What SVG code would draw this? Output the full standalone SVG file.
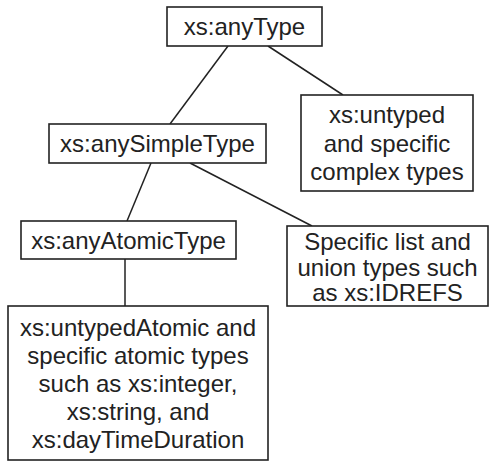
<svg xmlns="http://www.w3.org/2000/svg" width="495" height="469" viewBox="0 0 495 469">
<style>
.box{fill:#fff;stroke:#222;stroke-width:1.6}
.t{font-family:"Liberation Sans",Arial,sans-serif;font-size:24px;fill:#222;text-anchor:middle}
.c{stroke:#222;stroke-width:1.5;fill:none}
</style>
<rect width="495" height="469" fill="#fff"/>
<g id="connectors">
<line class="c" x1="228" y1="46" x2="170" y2="124"/>
<line class="c" x1="268" y1="46" x2="343" y2="95"/>
<line class="c" x1="151" y1="163" x2="127" y2="221"/>
<line class="c" x1="190" y1="163" x2="312" y2="226"/>
<line class="c" x1="125" y1="259" x2="125" y2="306"/>
</g>
<g id="anyType">
<rect class="box" x="167" y="7" width="155" height="39"/>
<text class="t" x="244.5" y="35">xs:anyType</text>
</g>
<g id="complex">
<rect class="box" x="301" y="95" width="172" height="96"/>
<text class="t" x="387" y="123">xs:untyped</text>
<text class="t" x="387" y="152">and specific</text>
<text class="t" x="387" y="180">complex types</text>
</g>
<g id="anySimpleType">
<rect class="box" x="49" y="124" width="217" height="39"/>
<text class="t" x="157.5" y="152">xs:anySimpleType</text>
</g>
<g id="anyAtomicType">
<rect class="box" x="21" y="221" width="215" height="38"/>
<text class="t" x="128.5" y="249">xs:anyAtomicType</text>
</g>
<g id="listUnion">
<rect class="box" x="287" y="226" width="201" height="80"/>
<text class="t" x="387.5" y="250">Specific list and</text>
<text class="t" x="387.5" y="276">union types such</text>
<text class="t" x="387.5" y="301">as xs:IDREFS</text>
</g>
<g id="atomic">
<rect class="box" x="8" y="306" width="260" height="154"/>
<text class="t" x="138" y="336">xs:untypedAtomic and</text>
<text class="t" x="138" y="364">specific atomic types</text>
<text class="t" x="138" y="392">such as xs:integer,</text>
<text class="t" x="138" y="420">xs:string, and</text>
<text class="t" x="138" y="448">xs:dayTimeDuration</text>
</g>
</svg>
